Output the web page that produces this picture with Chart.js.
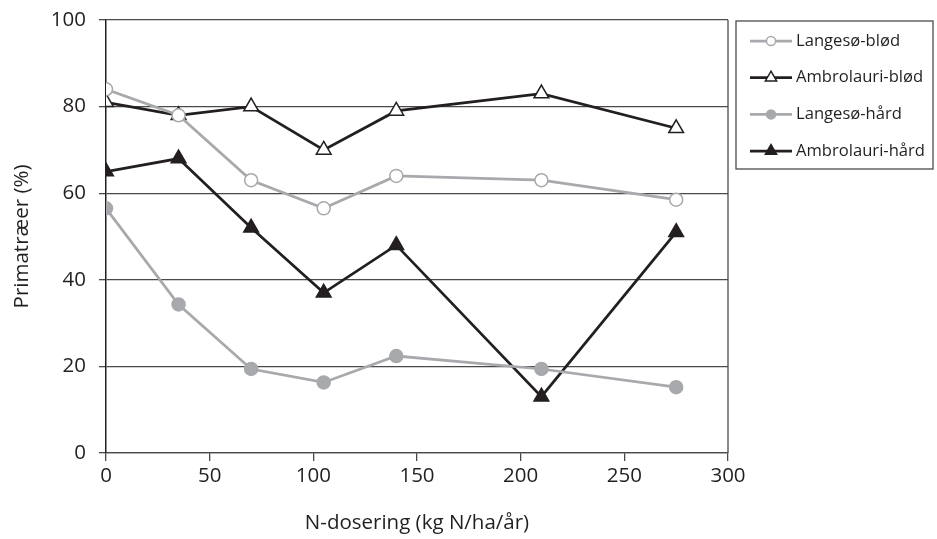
<!DOCTYPE html>
<html>
<head>
<meta charset="utf-8">
<title>Primatræer</title>
<script src="https://cdn.jsdelivr.net/npm/chart.js@4"></script>
<style>
  html, body { margin: 0; padding: 0; background: #fff; }
  #wrap { width: 937px; height: 539px; }
</style>
</head>
<body>
<div id="wrap"><canvas id="chart" width="937" height="539"></canvas></div>
<script>
// N-dosering (kg N/ha/år) and andel primatræer (%) per herkomst/jordtype
const doses = [0, 35, 70, 105, 140, 210, 275];
const langesoBlod    = [84, 78, 63, 56.5, 64, 63, 58.5];
const ambrolauriBlod = [81, 78, 80, 70, 79, 83, 75];
const langesoHard    = [56.5, 34.3, 19.4, 16.3, 22.4, 19.4, 15.2];
const ambrolauriHard = [65, 68, 52, 37, 48, 13, 51];

const xTicks = [0, 50, 100, 150, 200, 250, 300];
const yTicks = [0, 20, 40, 60, 80, 100];

const GREY  = '#a7a9ac';
const BLACK = '#231f20';
const FONT  = '"Open Sans", "Noto Sans", sans-serif';

const pts = vals => vals.map((v, i) => ({ x: doses[i], y: v }));

function series(label, vals, color, style, filled, radius) {
    return {
        label,
        data: pts(vals),
        borderColor: color,
        borderWidth: 2.75,
        pointStyle: style,
        pointRadius: radius,
        pointHoverRadius: radius,
        pointBorderWidth: 1.5,
        pointBorderColor: color,
        pointBackgroundColor: filled ? color : '#ffffff',
        tension: 0,
        _legendRadius: style === 'circle' ? 4.5 : 6.5,
    };
}

// frame on the right side of the plot area
const frame = {
    id: 'frame',
    afterDraw(chart) {
        const { ctx, chartArea: a } = chart;
        ctx.save();
        ctx.strokeStyle = '#4a4a4a';
        ctx.lineWidth = 1.3;
        ctx.beginPath();
        ctx.moveTo(a.right, a.top);
        ctx.lineTo(a.right, a.bottom);
        ctx.stroke();
        ctx.restore();
    }
};

// boxed legend to the right of the plot, line + marker per series
const boxLegend = {
    id: 'boxLegend',
    afterDraw(chart) {
        const { ctx, chartArea: a } = chart;
        const left = a.right + 8, top = a.top + 1;
        const w = 197, h = 148, step = 36.7;
        ctx.save();
        ctx.strokeStyle = '#4a4a4a';
        ctx.lineWidth = 1.3;
        ctx.strokeRect(left, top, w, h);
        ctx.font = '16.6px ' + FONT;
        ctx.textBaseline = 'middle';
        chart.data.datasets.forEach((ds, i) => {
            const y = top + 20 + i * step;
            ctx.strokeStyle = ds.borderColor;
            ctx.lineWidth = ds.borderWidth;
            ctx.beginPath();
            ctx.moveTo(left + 14, y);
            ctx.lineTo(left + 56, y);
            ctx.stroke();
            ctx.fillStyle = ds.pointBackgroundColor;
            ctx.strokeStyle = ds.pointBorderColor;
            ctx.lineWidth = ds.pointBorderWidth;
            Chart.helpers.drawPoint(ctx, {
                pointStyle: ds.pointStyle,
                radius: ds._legendRadius,
                borderWidth: ds.pointBorderWidth,
                rotation: 0
            }, left + 35, y);
            ctx.fillStyle = BLACK;
            ctx.fillText(ds.label, left + 60, y);
        });
        ctx.restore();
    }
};

new Chart(document.getElementById('chart'), {
    type: 'line',
    data: {
        datasets: [
            series('Langesø-blød',    langesoBlod,    GREY,  'circle',   false, 6.5),
            series('Ambrolauri-blød', ambrolauriBlod, BLACK, 'triangle', false, 8.5),
            series('Langesø-hård',    langesoHard,    GREY,  'circle',   true,  6.5),
            series('Ambrolauri-hård', ambrolauriHard, BLACK, 'triangle', true,  8.5),
        ],
    },
    options: {
        responsive: false,
        animation: false,
        events: [],
        layout: { padding: { top: 20, right: 209, left: 8, bottom: 4 } },
        plugins: {
            legend: { display: false },
            tooltip: { enabled: false },
        },
        scales: {
            x: {
                type: 'linear',
                min: 0,
                max: 300,
                afterBuildTicks: s => { s.ticks = xTicks.map(v => ({ value: v })); },
                afterFit: s => {
                    s.height = 539 - 453 - 4;
                    s.paddingLeft = 0;
                    s.paddingRight = 0;
                },
                border: { color: '#4a4a4a', width: 1.3 },
                grid: { drawOnChartArea: false, drawTicks: true, tickLength: 8, color: '#4a4a4a', lineWidth: 1.3 },
                ticks: { color: BLACK, font: { family: FONT, size: 20.5 }, padding: 3, maxRotation: 0 },
                title: {
                    display: true,
                    text: 'N-dosering (kg N/ha/år)',
                    color: BLACK,
                    font: { family: FONT, size: 20.5 },
                    padding: { top: 0, bottom: 0 },
                },
            },
            y: {
                min: 0,
                max: 100,
                afterBuildTicks: s => { s.ticks = yTicks.map(v => ({ value: v })); },
                afterFit: s => {
                    s.width = 106 - 8;
                    s.paddingTop = 0;
                    s.paddingBottom = 0;
                },
                border: { color: BLACK, width: 1.5 },
                grid: { drawOnChartArea: true, drawTicks: true, tickLength: 7, color: '#4a4a4a', lineWidth: 1.3 },
                ticks: { color: BLACK, font: { family: FONT, size: 20.5 }, padding: 13 },
                title: {
                    display: true,
                    text: 'Primatræer (%)',
                    color: BLACK,
                    font: { family: FONT, size: 20.5 },
                    padding: { top: 2, bottom: 0 },
                },
            },
        },
    },
    plugins: [frame, boxLegend],
});
</script>
</body>
</html>
